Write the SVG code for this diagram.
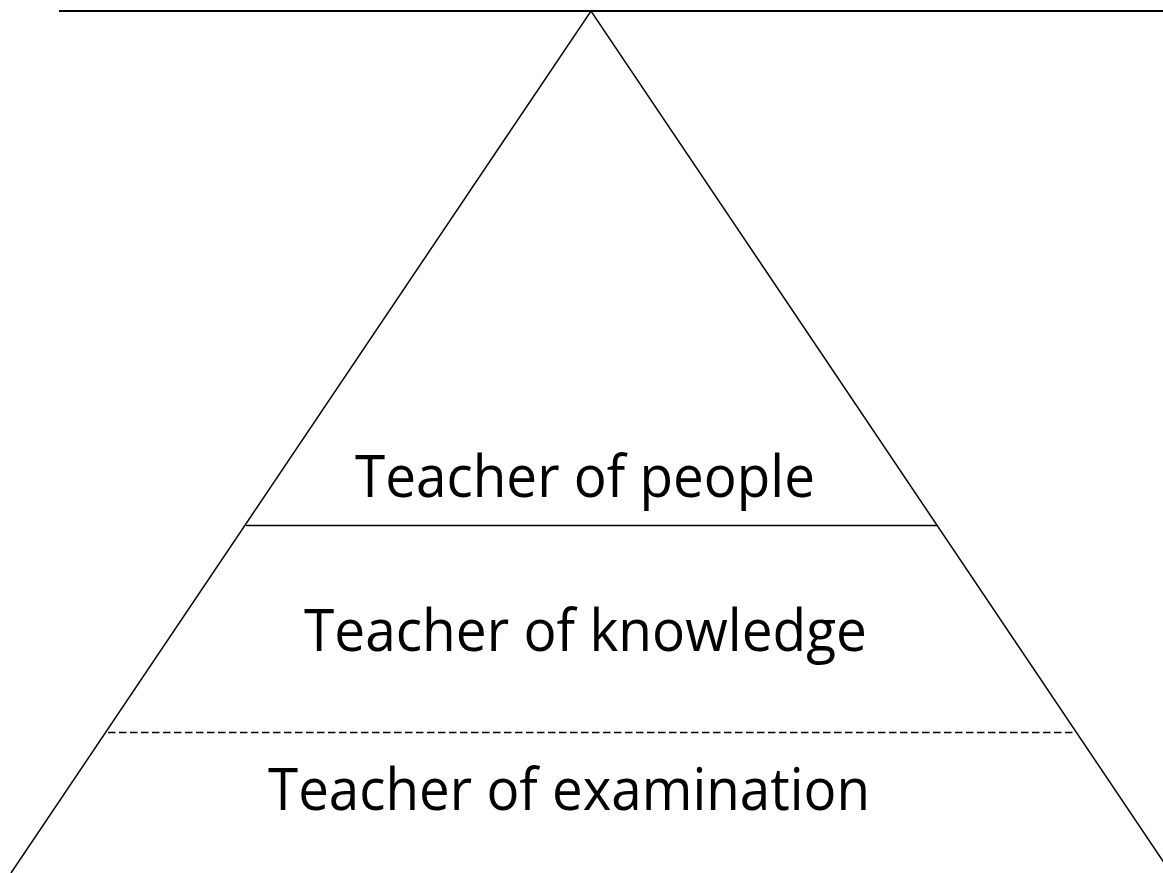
<svg xmlns="http://www.w3.org/2000/svg" width="1163" height="873" viewBox="0 0 1163 873">
<style>
.ln{stroke:#000;stroke-width:1.5;fill:none}
.lbl{font-family:"Open Sans","Noto Sans",sans-serif;font-size:58px;fill:#000}
</style>
<rect width="1163" height="873" fill="#fff"/>
<g id="frame">
<line x1="59" y1="11" x2="1163" y2="11" stroke="#000" stroke-width="2.2"/>
<polyline class="ln" points="11,873 591,11 1171,873"/>
</g>
<g id="connectors">
<line class="ln" x1="246" y1="525.5" x2="937" y2="525.5"/>
<line class="ln" x1="108" y1="732.5" x2="1075" y2="732.5" stroke-width="1.2" stroke-dasharray="7.5 3.5"/>
</g>
<g id="people"><text class="lbl" x="355" y="497" textLength="460" lengthAdjust="spacingAndGlyphs">Teacher of people</text></g>
<g id="knowledge"><text class="lbl" x="304" y="651" textLength="563" lengthAdjust="spacingAndGlyphs">Teacher of knowledge</text></g>
<g id="examination"><text class="lbl" x="268" y="810" textLength="602" lengthAdjust="spacingAndGlyphs">Teacher of examination</text></g>
</svg>
